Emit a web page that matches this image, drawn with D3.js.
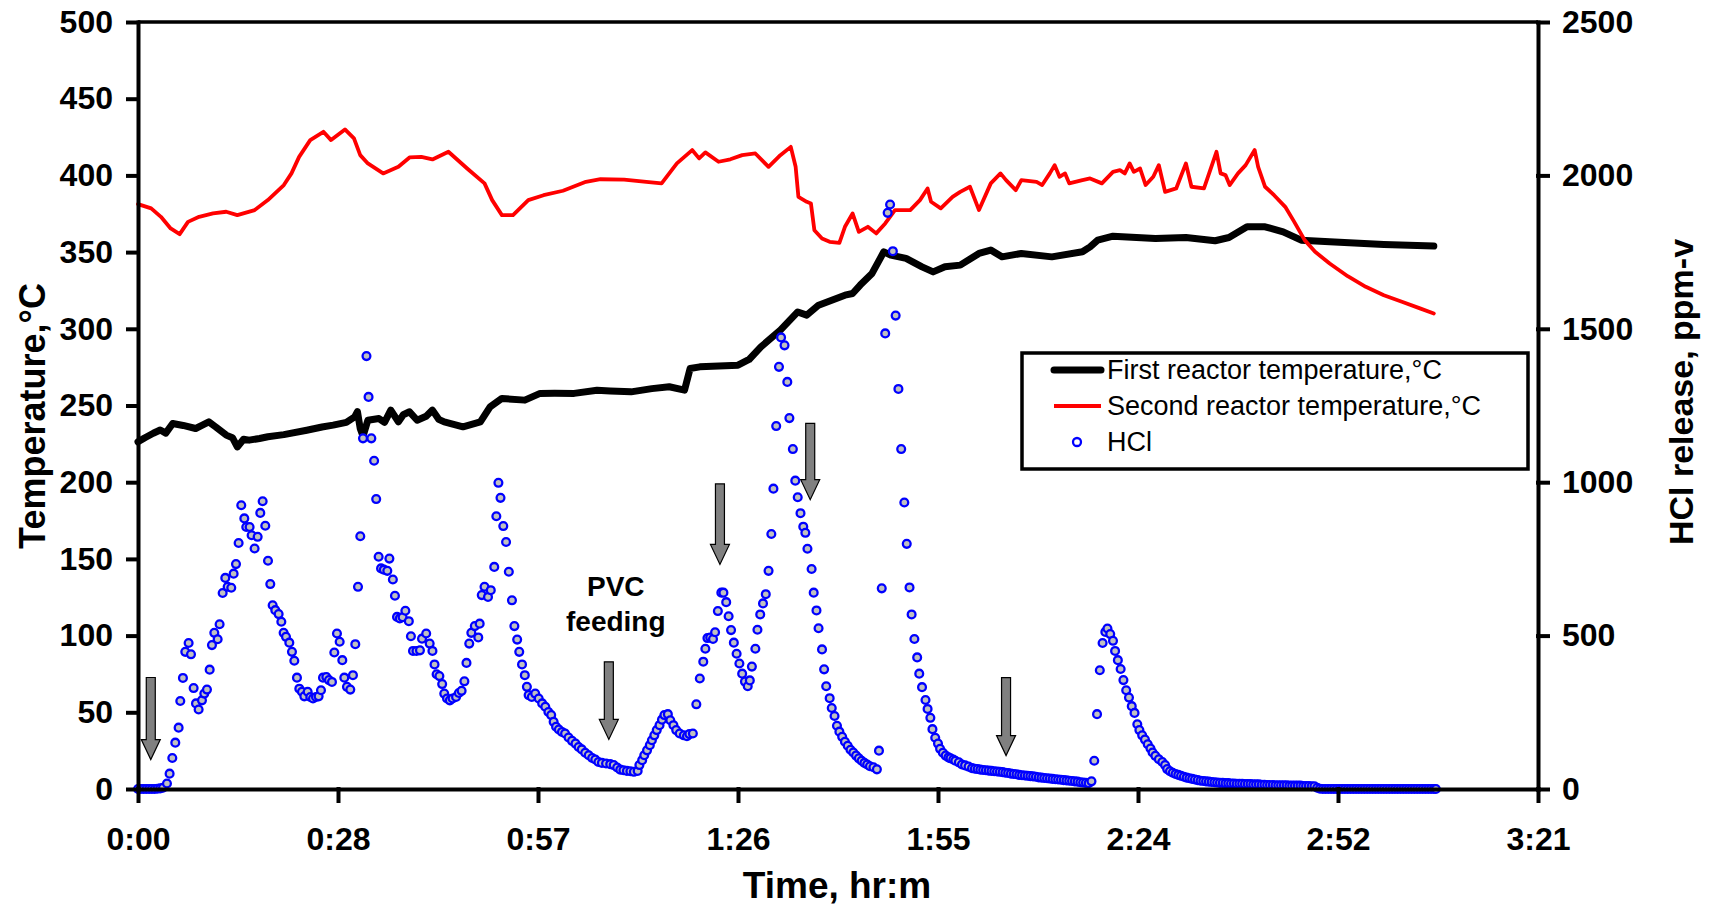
<!DOCTYPE html>
<html>
<head>
<meta charset="utf-8">
<script src="https://cdn.jsdelivr.net/npm/d3@7"></script>
<style>
  body { margin: 0; background: #fff; }
  svg { display: block; font-family: "Liberation Sans", Arial, sans-serif; }
  .axis .tick text { font-size: 32px; font-weight: bold; fill: #000; }
  .axis path, .axis line { stroke: #000; stroke-width: 4; stroke-linecap: square; }
  .title { font-size: 36px; font-weight: bold; }
</style>
</head>
<body>
<div class="svg-container"></div>
<script>
// axis ticks (time in minutes, labels as Excel shows them)
const timeTicks = [0, 28.8, 57.6, 86.4, 115.2, 144, 172.8, 201.6];
const timeTickLabels = ['0:00', '0:28', '0:57', '1:26', '1:55', '2:24', '2:52', '3:21'];
const tempTicks = [0, 50, 100, 150, 200, 250, 300, 350, 400, 450, 500];
const hclTicks = [0, 500, 1000, 1500, 2000, 2500];

// first reactor temperature [minute, °C]
const firstReactor = [
  [0, 226.3], [1, 229], [2.2, 231.9], [3.2, 234], [4, 232], [5, 238.3], [6.5, 237], [8.3, 235],
  [9.2, 237], [10.2, 239.3], [11.2, 236], [12.7, 230.7], [13.6, 229], [14.3, 223], [15.2, 228],
  [16, 227.4], [17.5, 228.5], [18.7, 229.6], [21, 231], [24.3, 233.9], [26.5, 236], [28.1, 237.2],
  [30, 239], [31.2, 242.6], [31.6, 246], [32, 235], [32.4, 230], [33.1, 240.4], [34.7, 241.5],
  [35.5, 239], [36.4, 247], [37.5, 239.3], [38.2, 244], [39.1, 245.9], [40.2, 240.4], [41.5, 243],
  [42.4, 247], [43.3, 241], [44.1, 239.3], [46.8, 236.1], [49.3, 239.3], [50.7, 249.1], [52.4, 254.6],
  [55.7, 253.5], [57.9, 257.9], [60, 258], [62.8, 257.9], [66.1, 260], [68, 259.5], [71, 258.9],
  [74, 261], [76.5, 262.2], [78.7, 260], [79.5, 274.1], [80.9, 275.2], [86.4, 276.3], [88, 280],
  [89.7, 288.2], [92.5, 299.1], [95, 311], [96.3, 308.9], [98, 315.4], [101.8, 321.9], [102.9, 323],
  [104, 328.5], [105.7, 336.1], [107.4, 350.2], [108.4, 348], [110.6, 345.9], [112.9, 340.4],
  [114.5, 337.1], [116.2, 340.4], [118.4, 341.5], [121.1, 349.1], [122.8, 351.3], [124.4, 346.9],
  [127.2, 349.1], [131.6, 346.9], [136, 350.2], [137.1, 353.4], [138.2, 357.8], [140.4, 360.4],
  [146.5, 358.9], [150.9, 359.5], [155.1, 357.4], [157.1, 359.5], [159.7, 366.5], [162.3, 366.5],
  [164.9, 363.2], [167.5, 357.8], [171.6, 356.7], [179.4, 355], [186.6, 353.9]
];

// second reactor temperature [minute, °C]
const secondReactor = [
  [0, 381.3], [1.9, 378.5], [3.3, 373], [4.7, 365.4], [6, 361.7], [7.2, 369.7], [8.8, 373],
  [10.8, 375.2], [12.7, 376.3], [14.3, 374.1], [16.8, 377.4], [18.7, 383.9], [21, 393.7],
  [22.1, 401.3], [23.2, 412.1], [24.8, 423], [26.7, 428.4], [27.8, 423], [29.8, 430], [31.1, 424.1],
  [32, 413.2], [33.1, 407.8], [35.3, 401.3], [37.5, 405.6], [39.1, 411.7], [40.8, 412.1],
  [42.4, 410.4], [44.7, 415.4], [47.4, 404.5], [49.9, 394.8], [51, 383.9], [52.4, 374.1], [54, 374.1],
  [56.2, 383.9], [58.4, 387.1], [61.2, 390], [64.5, 395.8], [66.6, 397.5], [70, 397.2], [73.2, 395.8],
  [75.4, 394.8], [77.6, 407.8], [79.8, 416.5], [80.8, 411.1], [81.7, 415], [83.6, 408.9],
  [85.3, 410.5], [87, 413.2], [88.9, 414.3], [90.8, 405.6], [92.5, 413.2], [94, 418.6], [94.7, 405.6],
  [95.1, 386], [96.3, 382.8], [96.9, 381.7], [97.4, 364.3], [98.5, 358.9], [99.6, 356.7], [101, 356],
  [101.8, 366.5], [102.9, 375.2], [103.8, 363.2], [105.1, 366.5], [106.3, 362.2], [107.6, 368.7],
  [109, 377.4], [111.2, 377.4], [112.6, 383.9], [113.7, 391.5], [114.2, 382.8], [115.6, 378.5],
  [117.3, 386], [118.4, 389.3], [119.8, 392.6], [121.1, 377.4], [122.8, 394.8], [124.2, 401.3],
  [125, 396.9], [126.4, 390.4], [127.2, 396.9], [129.4, 395.8], [130.2, 393.7], [131.3, 401.3],
  [132, 406.7], [132.7, 399.1], [133.5, 401.3], [134.1, 394.8], [136, 396.9], [137.1, 398],
  [138.8, 394.8], [140.4, 402.3], [141.4, 403.4], [142.1, 401.3], [142.8, 407.8], [143.4, 402.3],
  [144.3, 404.5], [145.1, 393.7], [146.2, 399.1], [147, 406.7], [147.9, 389.3], [149.5, 391.5],
  [150.9, 407.8], [151.7, 392.6], [153.5, 391.5], [155.3, 415.4], [155.9, 401.3], [156.6, 400.2],
  [157.2, 393.7], [158.4, 401.3], [159.5, 406.7], [160.8, 416.5], [161.3, 405.6], [162.3, 392.6],
  [163.6, 387.1], [165.2, 379.5], [166.5, 369.7], [168, 357.8], [169.5, 350.2], [171.6, 342.6],
  [174.2, 334.3], [176.8, 327.4], [179.4, 321.9], [182, 317.6], [184.6, 313.3], [186.6, 310]
];

// HCl release [minute, ppm-v]
const hcl = [
  [0, 0], [0.4, 0], [0.8, 0], [1.2, 0], [1.6, 0], [2, 0], [2.4, 0], [2.8, 1], [3.2, 2], [3.6, 4],
  [4.17, 18], [4.55, 50], [4.94, 101], [5.37, 151], [5.85, 200], [6.09, 287], [6.47, 362], [6.81, 447],
  [7.29, 476], [7.63, 439], [8.01, 329], [8.35, 279], [8.73, 259], [9.21, 289], [9.55, 311], [9.93, 324],
  [10.32, 389], [10.65, 469], [10.99, 509], [11.47, 488], [11.75, 537], [12.19, 639], [12.57, 688],
  [12.91, 659], [13.43, 656], [13.77, 702], [14.11, 733], [14.49, 802], [14.87, 925], [15.31, 882],
  [15.59, 854], [16.07, 854], [16.36, 827], [16.79, 784], [17.23, 822], [17.61, 900], [17.95, 938],
  [18.33, 858], [18.72, 744], [19.05, 668], [19.39, 599], [19.77, 583], [20.25, 570], [20.64, 545],
  [20.97, 509], [21.31, 496], [21.79, 477], [22.17, 447], [22.51, 418], [22.89, 363], [23.23, 327],
  [23.61, 317], [23.95, 302], [24.43, 317], [24.81, 300], [25.2, 295], [25.63, 300], [26.01, 302],
  [26.35, 322], [26.64, 363], [27.12, 365], [27.5, 355], [27.93, 349], [28.27, 445], [28.65, 507],
  [29.04, 480], [29.42, 420], [29.71, 363], [30.09, 333], [30.57, 324], [30.95, 371], [31.29, 472],
  [31.68, 659], [32.01, 824], [32.4, 1143], [32.9, 1411], [33.2, 1278], [33.6, 1143], [34, 1070],
  [34.3, 945], [34.65, 757], [35, 719], [35.4, 715], [35.9, 711], [36.2, 751], [36.7, 683], [37, 630],
  [37.3, 561], [37.7, 556], [38.1, 560], [38.5, 581], [39, 547], [39.3, 498], [39.6, 450], [40.1, 450],
  [40.6, 452], [40.9, 490], [41.5, 507], [42, 474], [42.4, 450], [42.7, 406], [43, 374], [43.4, 368],
  [43.8, 342], [44.1, 311], [44.5, 295], [44.9, 289], [45.3, 295], [45.8, 300], [46.2, 313], [46.6, 320],
  [47, 351], [47.3, 411], [47.7, 474], [48, 509], [48.5, 531], [49, 494], [49.2, 539], [49.5, 632],
  [49.9, 659], [50.4, 626], [50.8, 648], [51.3, 724], [51.6, 889], [51.9, 998], [52.2, 949], [52.6, 857],
  [53, 805], [53.4, 708], [53.85, 615], [54.2, 531], [54.6, 487], [54.9, 447], [55.3, 406], [55.7, 371],
  [56, 333], [56.25, 306], [56.7, 300], [57.2, 311], [57.7, 295], [58.2, 279], [58.65, 268], [59.1, 251],
  [59.5, 241], [59.85, 219], [60.2, 203], [60.6, 194], [61.05, 186], [61.5, 181], [62, 168], [62.5, 157],
  [63, 148], [63.45, 137], [63.9, 129], [64.4, 118], [64.9, 110], [65.4, 101], [65.85, 96], [66.3, 88],
  [66.8, 85], [67.4, 83], [68, 81], [68.5, 78], [69, 70], [69.45, 63], [69.9, 61], [70.4, 59], [70.9, 58],
  [71.4, 56], [71.95, 59], [72.2, 78], [72.6, 94], [72.9, 110], [73.3, 126], [73.7, 143], [74, 159],
  [74.35, 175], [74.7, 192], [75.1, 208], [75.45, 226], [75.8, 241], [76.3, 244], [76.65, 224],
  [77.1, 208], [77.5, 192], [78, 181], [78.6, 175], [79.05, 172], [79.4, 179], [79.9, 181], [80.4, 276],
  [80.9, 360], [81.4, 415], [81.7, 457], [82, 492], [82.4, 494], [82.8, 489], [83.1, 511], [83.5, 580],
  [84, 640], [84.3, 640], [84.7, 609], [85.05, 563], [85.4, 518], [85.8, 477], [86.2, 441], [86.6, 409],
  [87, 376], [87.4, 350], [87.8, 335], [88.1, 354], [88.4, 399], [88.9, 457], [89.2, 519], [89.6, 569],
  [90, 605], [90.4, 635], [90.8, 711], [91.2, 831], [91.5, 979], [91.9, 1183], [92.3, 1376], [92.6, 1472],
  [93.1, 1446], [93.5, 1327], [93.8, 1209], [94.3, 1108], [94.65, 1005], [95, 951], [95.4, 899],
  [95.8, 855], [96.1, 835], [96.4, 783], [97, 717], [97.3, 640], [97.7, 582], [98, 524], [98.5, 455],
  [98.8, 390], [99.1, 335], [99.6, 296], [99.9, 264], [100.3, 238], [100.65, 206], [101, 187],
  [101.4, 170], [101.8, 154], [102.2, 141], [102.6, 128], [103, 119], [103.4, 109], [103.8, 100],
  [104.2, 92], [104.6, 85], [105, 80], [105.4, 74], [105.9, 71], [106.4, 64], [106.7, 125], [107.1, 654],
  [107.6, 1485], [107.95, 1878], [108.3, 1905], [108.7, 1753], [109.1, 1543], [109.5, 1304],
  [109.9, 1108], [110.35, 934], [110.7, 799], [111.1, 657], [111.4, 569], [111.8, 489], [112.2, 429],
  [112.5, 376], [112.9, 332], [113.4, 290], [113.7, 261], [114.1, 232], [114.4, 195], [114.8, 167],
  [115.2, 148], [115.5, 131], [115.9, 118], [116.3, 109], [116.7, 103], [117, 100], [117.4, 96],
  [117.7, 92], [118.2, 87], [118.65, 80], [119.1, 77], [119.6, 73], [120.1, 68], [120.5, 66], [120.9, 65],
  [121.3, 63], [121.7, 62], [122.1, 61], [122.5, 60], [122.9, 59], [123.3, 58], [123.7, 57], [124.1, 56],
  [124.5, 55], [124.9, 53], [125.3, 52], [125.7, 50], [126.1, 49], [126.5, 48], [126.9, 46], [127.3, 45],
  [127.7, 44], [128.1, 43], [128.5, 42], [128.9, 41], [129.3, 40], [129.7, 38], [130.1, 37], [130.5, 36],
  [130.9, 35], [131.3, 34], [131.7, 33], [132.1, 32], [132.5, 31], [132.9, 30], [133.3, 29], [133.7, 28],
  [134.1, 27], [134.5, 26], [134.9, 25], [135.3, 24], [135.7, 22], [136.1, 21], [136.5, 20], [136.9, 19],
  [137.3, 25], [137.7, 92], [138.1, 244], [138.5, 387], [138.9, 476], [139.3, 512], [139.6, 523],
  [140, 505], [140.4, 483], [140.7, 450], [141.1, 420], [141.5, 391], [141.9, 355], [142.3, 322],
  [142.7, 298], [143.1, 270], [143.5, 248], [143.9, 211], [144.2, 192], [144.6, 175], [145, 161],
  [145.4, 146], [145.8, 132], [146.1, 119], [146.5, 108], [147, 97], [147.5, 88], [147.9, 78], [148.2, 65],
  [148.6, 58], [149, 53], [149.4, 49], [149.8, 46], [150.2, 43], [150.6, 40], [151, 37], [151.4, 35],
  [151.8, 33], [152.2, 31], [152.6, 29], [153, 27], [153.4, 26], [153.8, 25], [154.2, 24], [154.6, 23],
  [155, 22], [155.4, 21], [155.8, 20], [156.2, 20], [156.6, 19], [157, 19], [157.4, 18], [157.8, 18],
  [158.2, 17], [158.6, 17], [159, 17], [159.4, 16], [159.8, 16], [160.2, 16], [160.6, 15], [161, 15],
  [161.4, 15], [161.8, 14], [162.2, 14], [162.6, 13], [163, 13], [163.4, 13], [163.8, 12], [164.2, 12],
  [164.6, 12], [165, 12], [165.4, 12], [165.8, 11], [166.2, 11], [166.6, 11], [167, 11], [167.4, 11],
  [167.8, 10], [168.2, 10], [168.6, 10], [169, 9], [169.4, 9], [169.8, 4], [170.2, 1], [170.6, 0],
  [171, 0], [171.4, 0], [171.8, 0], [172.2, 0], [172.6, 0], [173, 0], [173.4, 0], [173.8, 0], [174.2, 0],
  [174.6, 0], [175, 0], [175.4, 0], [175.8, 0], [176.2, 0], [176.6, 0], [177, 0], [177.4, 0], [177.8, 0],
  [178.2, 0], [178.6, 0], [179, 0], [179.4, 0], [179.8, 0], [180.2, 0], [180.6, 0], [181, 0], [181.4, 0],
  [181.8, 0], [182.2, 0], [182.6, 0], [183, 0], [183.4, 0], [183.8, 0], [184.2, 0], [184.6, 0], [185, 0],
  [185.4, 0], [185.8, 0], [186.2, 0], [186.6, 0], [186.9, 0]
];

// PVC feeding arrows: time, top of shaft and tip (°C on left axis)
const feedTimes = [1.84, 67.8, 83.8, 96.8, 125.0];
const feedTopTemp = [72.7, 82.9, 198.9, 238.4, 72.6];
const feedTipTemp = [19.2, 32.3, 146.4, 188.6, 21.8];

const legendLabels = ['First reactor temperature,°C', 'Second reactor temperature,°C', 'HCl'];

// set up svg element dimensions
const width = 1713;
const height = 906;
const margin = { top: 22, right: 175, bottom: 117, left: 138 };

const svg = d3.select('.svg-container')
  .append('svg')
  .attr('width', width)
  .attr('height', height);

// scales
const xScale = d3.scaleLinear()
  .domain([0, 201.6])
  .range([margin.left, width - margin.right]);

const yTemp = d3.scaleLinear()
  .domain([0, 500])
  .range([height - margin.bottom, margin.top]);

const yHcl = d3.scaleLinear()
  .domain([0, 2500])
  .range([height - margin.bottom, margin.top]);

// axes
const xAxis = d3.axisBottom(xScale)
  .tickValues(timeTicks)
  .tickFormat((d, i) => timeTickLabels[i])
  .tickSize(12)
  .tickSizeOuter(0)
  .tickPadding(26);

const yAxisLeft = d3.axisLeft(yTemp)
  .tickValues(tempTicks)
  .tickFormat(d3.format('d'))
  .tickSize(10)
  .tickSizeOuter(0)
  .tickPadding(15);

const yAxisRight = d3.axisRight(yHcl)
  .tickValues(hclTicks)
  .tickFormat(d3.format('d'))
  .tickSize(10)
  .tickSizeOuter(0)
  .tickPadding(14);

// top border of the plot area
svg.append('line')
  .attr('x1', xScale(0))
  .attr('x2', xScale(201.6))
  .attr('y1', yTemp(500))
  .attr('y2', yTemp(500))
  .attr('stroke', '#000')
  .attr('stroke-width', 3.5);

// lines
const line = (yScale) => d3.line()
  .x((d) => xScale(d[0]))
  .y((d) => yScale(d[1]));

svg.append('path')
  .datum(firstReactor)
  .attr('fill', 'none')
  .attr('stroke', '#000')
  .attr('stroke-width', 7)
  .attr('stroke-linejoin', 'round')
  .attr('stroke-linecap', 'round')
  .attr('d', line(yTemp));

svg.append('path')
  .datum(secondReactor)
  .attr('fill', 'none')
  .attr('stroke', '#ff0000')
  .attr('stroke-width', 3.8)
  .attr('stroke-linejoin', 'round')
  .attr('stroke-linecap', 'round')
  .attr('d', line(yTemp));

// HCl markers
svg.append('g')
  .selectAll('circle')
  .data(hcl)
  .join('circle')
  .attr('cx', (d) => xScale(d[0]))
  .attr('cy', (d) => yHcl(d[1]))
  .attr('r', 3.9)
  .attr('fill', '#c0c0c0')
  .attr('stroke', '#0000ff')
  .attr('stroke-width', 2.3);

// axes on top
svg.append('g')
  .attr('class', 'axis')
  .attr('transform', `translate(0, ${height - margin.bottom})`)
  .call(xAxis);

svg.append('g')
  .attr('class', 'axis')
  .attr('transform', `translate(${margin.left}, 0)`)
  .call(yAxisLeft);

svg.append('g')
  .attr('class', 'axis')
  .attr('transform', `translate(${width - margin.right}, 0)`)
  .call(yAxisRight);

// feeding arrows
const shaftHalf = 4.5;
const headHalf = 9.5;
const headLen = 20;

svg.append('g')
  .selectAll('path')
  .data(feedTimes)
  .join('path')
  .attr('d', (t, i) => {
    const cx = xScale(t);
    const top = yTemp(feedTopTemp[i]);
    const tip = yTemp(feedTipTemp[i]);
    const neck = tip - headLen;
    return `M${cx - shaftHalf},${top}H${cx + shaftHalf}V${neck}H${cx + headHalf}` +
      `L${cx},${tip}L${cx - headHalf},${neck}H${cx - shaftHalf}Z`;
  })
  .attr('fill', '#808080')
  .attr('stroke', '#000')
  .attr('stroke-width', 1.2);

// annotation
const noteX = xScale(68.8);
const note = svg.append('text')
  .attr('text-anchor', 'middle')
  .style('font-size', '28px')
  .style('font-weight', 'bold');
note.append('tspan').attr('x', noteX).attr('y', yTemp(125.5)).text('PVC');
note.append('tspan').attr('x', noteX).attr('y', yTemp(103)).text('feeding');

// axis titles
svg.append('text')
  .attr('class', 'title')
  .style('font-size', '37px')
  .attr('text-anchor', 'middle')
  .attr('x', 837)
  .attr('y', 898)
  .text('Time, hr:m');

svg.append('text')
  .attr('class', 'title')
  .attr('text-anchor', 'middle')
  .attr('dominant-baseline', 'central')
  .attr('transform', 'translate(32, 416) rotate(-90)')
  .text('Temperature,°C');

svg.append('text')
  .attr('class', 'title')
  .style('font-size', '34px')
  .attr('text-anchor', 'middle')
  .attr('dominant-baseline', 'central')
  .attr('transform', 'translate(1681, 392) rotate(-90)')
  .text('HCl release, ppm-v');

// legend
const legend = svg.append('g').attr('transform', 'translate(1022, 353)');
legend.append('rect')
  .attr('width', 506)
  .attr('height', 116)
  .attr('fill', '#fff')
  .attr('stroke', '#000')
  .attr('stroke-width', 3.5);

const rows = legend.selectAll('g.row')
  .data(legendLabels)
  .join('g')
  .attr('class', 'row')
  .attr('transform', (d, i) => `translate(0, ${17 + i * 36})`);

rows.append('text')
  .attr('x', 85)
  .attr('dominant-baseline', 'central')
  .style('font-size', '27px')
  .text((d) => d);

legend.append('line')
  .attr('x1', 32).attr('x2', 79).attr('y1', 17).attr('y2', 17)
  .attr('stroke', '#000').attr('stroke-width', 7).attr('stroke-linecap', 'round');
legend.append('line')
  .attr('x1', 32).attr('x2', 79).attr('y1', 53).attr('y2', 53)
  .attr('stroke', '#ff0000').attr('stroke-width', 4);
legend.append('circle')
  .attr('cx', 55).attr('cy', 89).attr('r', 4)
  .attr('fill', '#fff').attr('stroke', '#0000ff').attr('stroke-width', 2.3);
</script>
</body>
</html>
